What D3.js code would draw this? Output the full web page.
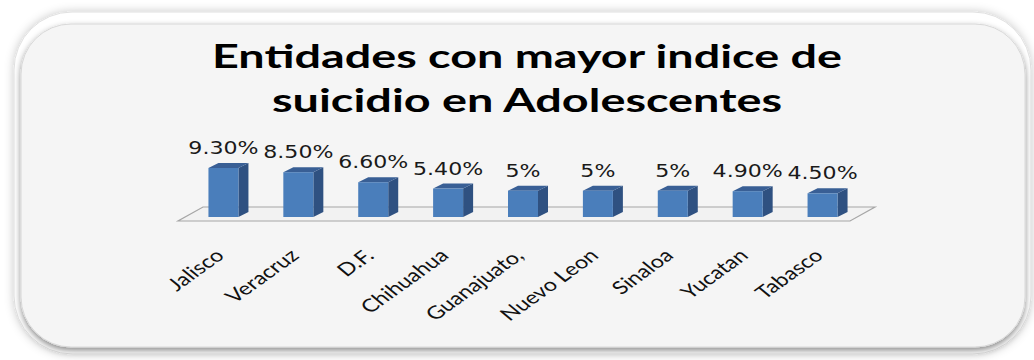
<!DOCTYPE html>
<html>
<head>
<meta charset="utf-8">
<script src="https://cdn.jsdelivr.net/npm/d3@7"></script>
<style>
  body { margin: 0; background: #fff; }
  svg { display: block; }
</style>
</head>
<body>
<div class="chart"></div>
<script>
// data
const states = ['Jalisco', 'Veracruz', 'D.F.', 'Chihuahua', 'Guanajuato,', 'Nuevo Leon', 'Sinaloa', 'Yucatan', 'Tabasco'];
const rates = [9.3, 8.5, 6.6, 5.4, 5, 5, 5, 4.9, 4.5];
const rateLabels = ['9.30%', '8.50%', '6.60%', '5.40%', '5%', '5%', '5%', '4.90%', '4.50%'];
const titleLines = ['Entidades con mayor indice de', 'suicidio en Adolescentes'];

const width = 1034, height = 360;
const stretch = 1.3;   // the picture is squeezed wider than it was drawn

const svg = d3.select('.chart')
    .append('svg')
    .attr('width', width)
    .attr('height', height);

const defs = svg.append('defs');
const blur = defs.append('filter').attr('id', 'shadow')
    .attr('x', '-5%').attr('y', '-10%').attr('width', '110%').attr('height', '125%');
blur.append('feDropShadow')
    .attr('dx', 0).attr('dy', 3).attr('stdDeviation', 3)
    .attr('flood-color', '#000').attr('flood-opacity', 0.45);

const outerShadow = defs.append('filter').attr('id', 'soft')
    .attr('x', '-5%').attr('y', '-10%').attr('width', '110%').attr('height', '125%');
outerShadow.append('feDropShadow')
    .attr('dx', 0).attr('dy', 0).attr('stdDeviation', 5)
    .attr('flood-color', '#000').attr('flood-opacity', 0.22);

// frame: white rounded card with a grey panel inside
svg.append('rect')
    .attr('x', 14).attr('y', 12).attr('width', 1017).attr('height', 342)
    .attr('rx', 58)
    .attr('fill', '#fff')
    .attr('stroke', '#e0e0e0')
    .attr('filter', 'url(#soft)');

svg.append('rect')
    .attr('x', 21).attr('y', 24).attr('width', 1004).attr('height', 323)
    .attr('rx', 50)
    .attr('fill', '#f5f5f5')
    .attr('stroke', '#d8d8d8')
    .attr('filter', 'url(#shadow)');

// title
svg.append('g').selectAll('text')
    .data(titleLines)
    .enter().append('text')
    .attr('x', 527)
    .attr('y', (d, i) => 68 + i * 44)
    .attr('text-anchor', 'middle')
    .attr('textLength', (d, i) => i === 0 ? 630 : 510)
    .attr('lengthAdjust', 'spacingAndGlyphs')
    .style('font-family', 'Lato, sans-serif')
    .style('font-weight', 'bold')
    .style('font-size', '32px')
    .style('fill', '#000')
    .text(d => d);

// scales
const x = d3.scaleBand()
    .domain(states)
    .range([186, 860]);

const y = d3.scaleLinear()
    .domain([0, 10])
    .range([217, 164.3]);

const barW = 30, dx = 10, dy = -5;
const floorDx = 25, floorDy = -14;

// floor
const [x0, x1] = x.range();
const fl = x0 - 8, fr = x1 - 10, fy = 221;
svg.append('path')
    .attr('d', `M${fl},${fy} L${fr},${fy} L${fr + floorDx},${fy + floorDy} L${fl + floorDx},${fy + floorDy} Z`)
    .attr('fill', '#f2f2f2')
    .attr('stroke', '#a6a6a6')
    .attr('stroke-width', 1.2);

// bars
const bars = svg.append('g').selectAll('.bar')
    .data(states.map((s, i) => ({ state: s, value: rates[i], label: rateLabels[i] })))
    .enter().append('g')
    .attr('class', 'bar');

const left = d => x(d.state) + (x.bandwidth() - barW) / 2;

bars.append('path')   // side
    .attr('d', d => {
        const l = left(d) + barW, t = y(d.value), b = y(0);
        return `M${l},${b} L${l},${t} L${l + dx},${t + dy} L${l + dx},${b + dy} Z`;
    })
    .attr('fill', '#2f5181');

bars.append('path')   // top
    .attr('d', d => {
        const l = left(d), t = y(d.value);
        return `M${l},${t} L${l + barW},${t} L${l + barW + dx},${t + dy} L${l + dx},${t + dy} Z`;
    })
    .attr('fill', '#395f95');

bars.append('rect')   // front
    .attr('x', left)
    .attr('y', d => y(d.value))
    .attr('width', barW)
    .attr('height', d => y(0) - y(d.value))
    .attr('fill', '#4a7ebb');

// value labels
bars.append('text')
    .attr('transform', d => `translate(${x(d.state) + x.bandwidth() / 2},${y(d.value) - 14}) scale(${stretch},1)`)
    .attr('text-anchor', 'middle')
    .style('font-family', 'DejaVu Sans, sans-serif')
    .style('font-size', '17px')
    .style('fill', '#1a1a1a')
    .text(d => d.label);

// category labels
svg.append('g').selectAll('text')
    .data(states)
    .enter().append('text')
    .attr('transform', d => `translate(${x(d) + x.bandwidth() / 2 + 2},257) scale(${stretch},1) rotate(-43)`)
    .attr('text-anchor', 'end')
    .style('font-family', 'Lato, sans-serif')
    .style('font-size', '18px')
    .style('fill', '#111')
    .text(d => d);
</script>
</body>
</html>
